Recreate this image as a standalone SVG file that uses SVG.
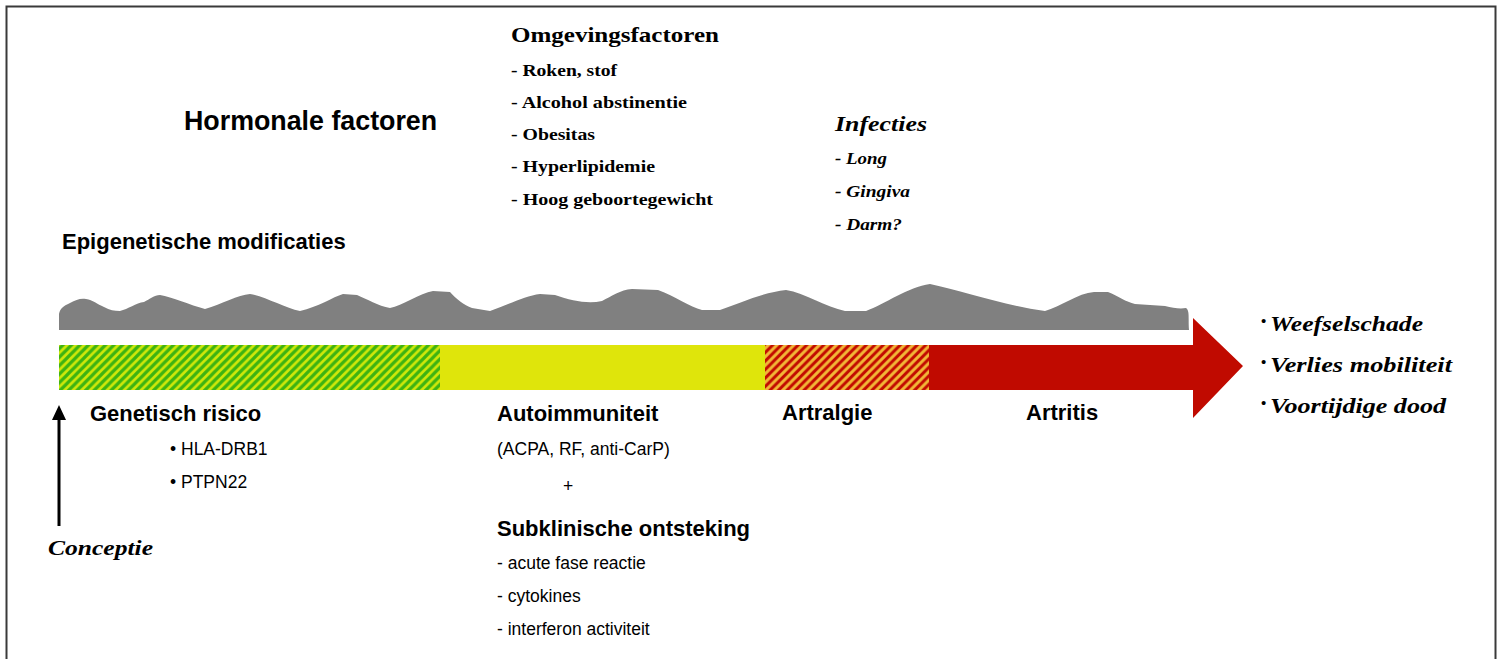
<svg xmlns="http://www.w3.org/2000/svg" width="1503" height="659" viewBox="0 0 1503 659">
<style>
.sans{font-family:"Liberation Sans",Arial,sans-serif;fill:#000}
.b{font-weight:bold}
.serif{font-family:"Liberation Serif","Times New Roman",serif;font-weight:bold;fill:#000}
.it{font-style:italic}
.h{font-size:22px}
.r{font-size:17.5px}
.s{font-size:17px}
.bul{font-size:15px}
</style>
<defs>
<pattern id="hatchGreen" patternUnits="userSpaceOnUse" width="8.5" height="8.5">
<rect width="8.5" height="8.5" fill="#cfe80a"/>
<path d="M-2,2 L2,-2 M0,8.5 L8.5,0 M6.5,10.5 L10.5,6.5" stroke="#3db312" stroke-width="3.2"/>
</pattern>
<pattern id="hatchRed" patternUnits="userSpaceOnUse" width="8.5" height="8.5">
<rect width="8.5" height="8.5" fill="#c20a00"/>
<path d="M-2,2 L2,-2 M0,8.5 L8.5,0 M6.5,10.5 L10.5,6.5" stroke="#f2b737" stroke-width="3"/>
</pattern>
</defs>
<rect x="6.5" y="6.5" width="1489" height="720" fill="#fff" stroke="#3a3a3a" stroke-width="2"/>

<g id="epigenetic-wave">
<path fill="#808080" d="M59,330 L59,314 C60,309 63,306 70,303 C76,300 80,298 86,299 C93,300 97,304 104,307 C110,310 114,311 120,311 C128,309 136,303 144,302 C150,299 154,295 160,295 C172,297 190,305 205,309 C222,304 238,295 250,294 C264,296 285,308 300,311 C318,307 333,297 343,294 L357,295 C367,299 378,306 390,308 C402,306 420,293 433,291 L450,292 C456,299 464,305 472,308 L490,311 C507,305 525,296 540,294 L555,295 C572,301 588,304 602,301 C612,296 620,290 632,289 L658,290 C675,296 690,307 702,310 L720,310 C740,303 765,292 786,290 C805,293 826,307 845,311 L866,311 C885,304 908,287 930,284 C962,291 1003,305 1045,311 C1060,307 1078,293 1094,292 L1108,292 C1118,296 1126,302 1135,304 L1165,306 C1173,308 1180,309 1186,308 C1190,311 1188,318 1189,330 Z"/>
</g>

<g id="timeline-bar">
<rect x="59" y="345" width="381" height="45" fill="url(#hatchGreen)"/>
<rect x="440" y="345" width="325" height="45" fill="#dfe50b"/>
<rect x="765" y="345" width="164" height="45" fill="url(#hatchRed)"/>
<polygon points="929,345 1193,345 1193,318 1243,366 1193,418 1193,390 929,390" fill="#c00a00"/>
</g>

<g id="connectors">
<line x1="59" y1="526" x2="59" y2="417" stroke="#000" stroke-width="3"/>
<polygon points="52,420 66,420 59,405" fill="#000"/>
</g>

<g id="omgevingsfactoren">
<text class="serif" x="511" y="42" font-size="21.5" textLength="208" lengthAdjust="spacingAndGlyphs">Omgevingsfactoren</text>
<text class="serif s" x="511" y="76" textLength="106" lengthAdjust="spacingAndGlyphs">- Roken, stof</text>
<text class="serif s" x="511" y="108" textLength="176" lengthAdjust="spacingAndGlyphs">- Alcohol abstinentie</text>
<text class="serif s" x="511" y="140" textLength="84" lengthAdjust="spacingAndGlyphs">- Obesitas</text>
<text class="serif s" x="511" y="172" textLength="144" lengthAdjust="spacingAndGlyphs">- Hyperlipidemie</text>
<text class="serif s" x="511" y="205" textLength="202" lengthAdjust="spacingAndGlyphs">- Hoog geboortegewicht</text>
</g>

<g id="infecties">
<text class="serif it" x="835" y="131" font-size="21.5" textLength="92" lengthAdjust="spacingAndGlyphs">Infecties</text>
<text class="serif it s" x="835" y="164" textLength="52" lengthAdjust="spacingAndGlyphs">- Long</text>
<text class="serif it s" x="835" y="197" textLength="75" lengthAdjust="spacingAndGlyphs">- Gingiva</text>
<text class="serif it s" x="835" y="230" textLength="67" lengthAdjust="spacingAndGlyphs">- Darm?</text>
</g>

<g id="hormonale">
<text class="sans b" x="184" y="130" font-size="26.8">Hormonale factoren</text>
</g>

<g id="epigenetisch">
<text class="sans b h" x="62" y="249">Epigenetische modificaties</text>
</g>

<g id="genetisch">
<text class="sans b h" x="90" y="421">Genetisch risico</text>
<text class="sans r" x="170" y="455">• HLA-DRB1</text>
<text class="sans r" x="170" y="488">• PTPN22</text>
</g>

<g id="conceptie">
<text class="serif it" x="48" y="555" font-size="21.5" textLength="105" lengthAdjust="spacingAndGlyphs">Conceptie</text>
</g>

<g id="autoimmuniteit">
<text class="sans b h" x="497" y="421">Autoimmuniteit</text>
<text class="sans r" x="497" y="455">(ACPA, RF, anti-CarP)</text>
<text class="sans r" x="568" y="492" text-anchor="middle">+</text>
<text class="sans b h" x="497" y="536">Subklinische ontsteking</text>
<text class="sans r" x="497" y="569">- acute fase reactie</text>
<text class="sans r" x="497" y="602">- cytokines</text>
<text class="sans r" x="497" y="635">- interferon activiteit</text>
</g>

<g id="artralgie">
<text class="sans b h" x="782" y="420">Artralgie</text>
</g>

<g id="artritis">
<text class="sans b h" x="1026" y="420">Artritis</text>
</g>

<g id="uitkomsten">
<text class="serif bul" x="1261" y="326">•</text>
<text class="serif it" x="1270" y="331" font-size="21.5" textLength="153" lengthAdjust="spacingAndGlyphs">Weefselschade</text>
<text class="serif bul" x="1261" y="367">•</text>
<text class="serif it" x="1270" y="372" font-size="21.5" textLength="182" lengthAdjust="spacingAndGlyphs">Verlies mobiliteit</text>
<text class="serif bul" x="1261" y="408">•</text>
<text class="serif it" x="1270" y="413" font-size="21.5" textLength="176" lengthAdjust="spacingAndGlyphs">Voortijdige dood</text>
</g>
</svg>
